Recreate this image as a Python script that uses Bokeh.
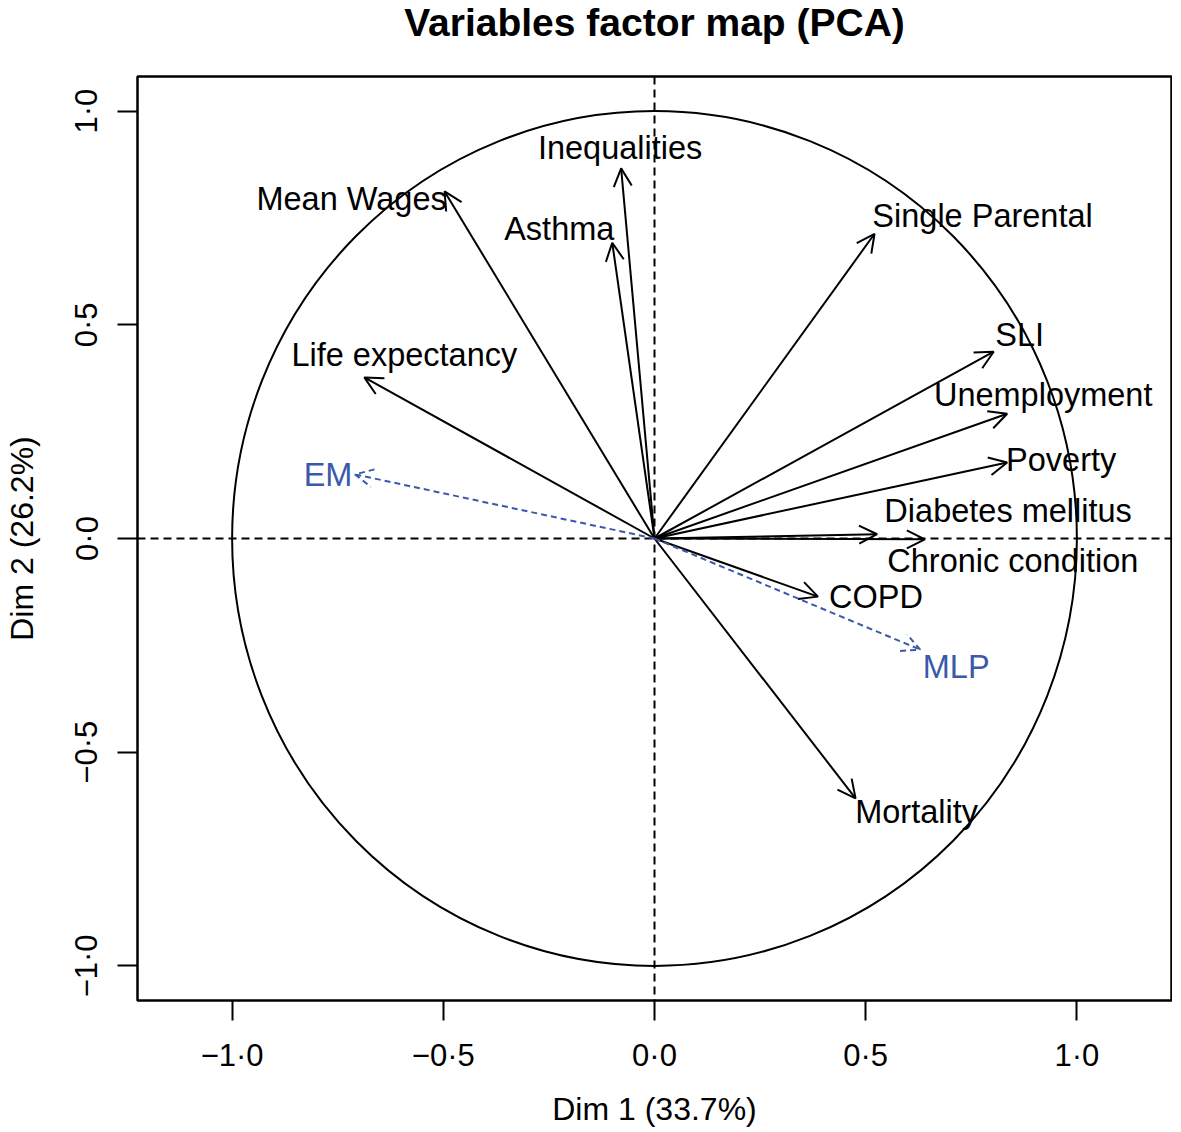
from bokeh.plotting import figure
from bokeh.models import (ColumnDataSource, Arrow, OpenHead, Span, FixedTicker,
                          CustomJSTickFormatter, Range1d, Title)
from bokeh.core.properties import value
from bokeh.embed import file_html
from bokeh.resources import INLINE

# ---------------- data ----------------
variables = ["Inequalities", "Asthma", "Mean Wages", "Life expectancy",
             "Single Parental", "SLI", "Unemployment", "Poverty",
             "Diabetes mellitus", "Chronic condition", "COPD", "Mortality"]
dim1 = [-0.079, -0.100, -0.497, -0.687, 0.521, 0.803, 0.835, 0.835,
        0.527, 0.640, 0.387, 0.476]
dim2 = [0.866, 0.692, 0.812, 0.377, 0.713, 0.437, 0.292, 0.178,
        0.010, -0.002, -0.136, -0.608]

sup_variables = ["EM", "MLP"]
sup_dim1 = [-0.709, 0.629]
sup_dim2 = [0.150, -0.260]

tick_values = [-1.0, -0.5, 0.0, 0.5, 1.0]
title_text = "Variables factor map (PCA)"
x_title = "Dim 1 (33.7%)"
y_title = "Dim 2 (26.2%)"
circle_radius = 1.0

# ---------------- label placement (screen px offsets) ----------------
label_dx = [-1, -53, -93, 40, 108, 26, 36, 54, 131, 88, 58, 61]
label_dy = [-20, -14, 8, -22, -18, -17, -19, -2, -23, 22, 0, 14]
sup_label_dx = [-27, 36]
sup_label_dy = [1, 17]

FONT = "Liberation Sans"
BLUE = "#3a59aa"

p = figure(frame_width=1034, frame_height=924, output_backend="svg", toolbar_location=None,
           x_range=Range1d(-1.224, 1.224), y_range=Range1d(-1.081, 1.081),
           min_border_left=130, min_border_right=1, min_border_top=75,
           min_border_bottom=117)

# spacer between frame and title, then the title itself (further out)
p.add_layout(Title(text=" ", text_font=FONT, text_font_size="10px", standoff=18), "above")
p.add_layout(Title(text=title_text, text_font=FONT, text_font_size="39px",
                   text_font_style="bold", text_color="black", align="center",
                   vertical_align="top", standoff=0), "above")

p.outline_line_color = "black"
p.outline_line_width = 2.5
p.outline_line_alpha = 1.0
p.grid.visible = False
p.background_fill_color = "white"
p.border_fill_color = "white"

fmt_code = """
const v = Math.abs(tick) < 1e-9 ? 0 : tick;
const s = Math.abs(v).toFixed(1).replace('.', '\u00b7');
return (v < 0 ? '\u2212' : '') + s;
"""

for ax in (p.xaxis[0], p.yaxis[0]):
    ax.ticker = FixedTicker(ticks=tick_values)
    ax.formatter = CustomJSTickFormatter(code=fmt_code)
    ax.major_tick_out = 20
    ax.major_tick_in = 0
    ax.minor_tick_out = 0
    ax.minor_tick_in = 0
    ax.major_tick_line_width = 2
    ax.major_tick_line_color = "black"
    ax.axis_line_color = None
    ax.major_label_text_font = FONT
    ax.major_label_text_font_size = "31px"
    ax.major_label_text_color = "black"
    ax.axis_label_text_font = FONT
    ax.axis_label_text_font_size = "32px"
    ax.axis_label_text_font_style = "normal"
    ax.axis_label_text_color = "black"

p.xaxis.axis_label = x_title
p.yaxis.axis_label = y_title
p.xaxis.major_label_standoff = 17
p.xaxis.axis_label_standoff = 15
p.yaxis.major_label_standoff = 13
p.yaxis.axis_label_standoff = 27
p.yaxis.major_label_orientation = "parallel"

# reference lines
p.add_layout(Span(location=0, dimension="width", line_dash="8 5",
                  line_width=2, line_color="black"))
p.add_layout(Span(location=0, dimension="height", line_dash="8 5",
                  line_width=2, line_color="black"))

# correlation circle
p.ellipse(x=[0], y=[0], width=[2 * circle_radius], height=[2 * circle_radius],
          fill_color=None, line_color="black", line_width=2)

# active variables
src = ColumnDataSource(dict(x0=[0.0] * len(variables), y0=[0.0] * len(variables),
                            x1=dim1, y1=dim2, name=variables,
                            dx=label_dx, dy=label_dy))
p.add_layout(Arrow(end=OpenHead(size=18, line_width=2, line_color="black"),
                   x_start="x0", y_start="y0", x_end="x1", y_end="y1",
                   source=src, line_width=2, line_color="black"))
p.text(x="x1", y="y1", text="name", x_offset="dx", y_offset="dy", source=src,
       text_font=value(FONT), text_font_size="32.5px", text_color="black",
       text_align="center", text_baseline="middle")

# supplementary variables
ssrc = ColumnDataSource(dict(x0=[0.0] * len(sup_variables), y0=[0.0] * len(sup_variables),
                             x1=sup_dim1, y1=sup_dim2, name=sup_variables,
                             dx=sup_label_dx, dy=sup_label_dy))
p.add_layout(Arrow(end=OpenHead(size=18, line_width=2, line_color=BLUE, line_dash="6 4"),
                   x_start="x0", y_start="y0", x_end="x1", y_end="y1",
                   source=ssrc, line_width=2, line_color=BLUE, line_dash="6 4"))
p.text(x="x1", y="y1", text="name", x_offset="dx", y_offset="dy", source=ssrc,
       text_font=value(FONT), text_font_size="32.5px", text_color=BLUE,
       text_align="center", text_baseline="middle")

open("out.html", "w").write(file_html(p, INLINE))
